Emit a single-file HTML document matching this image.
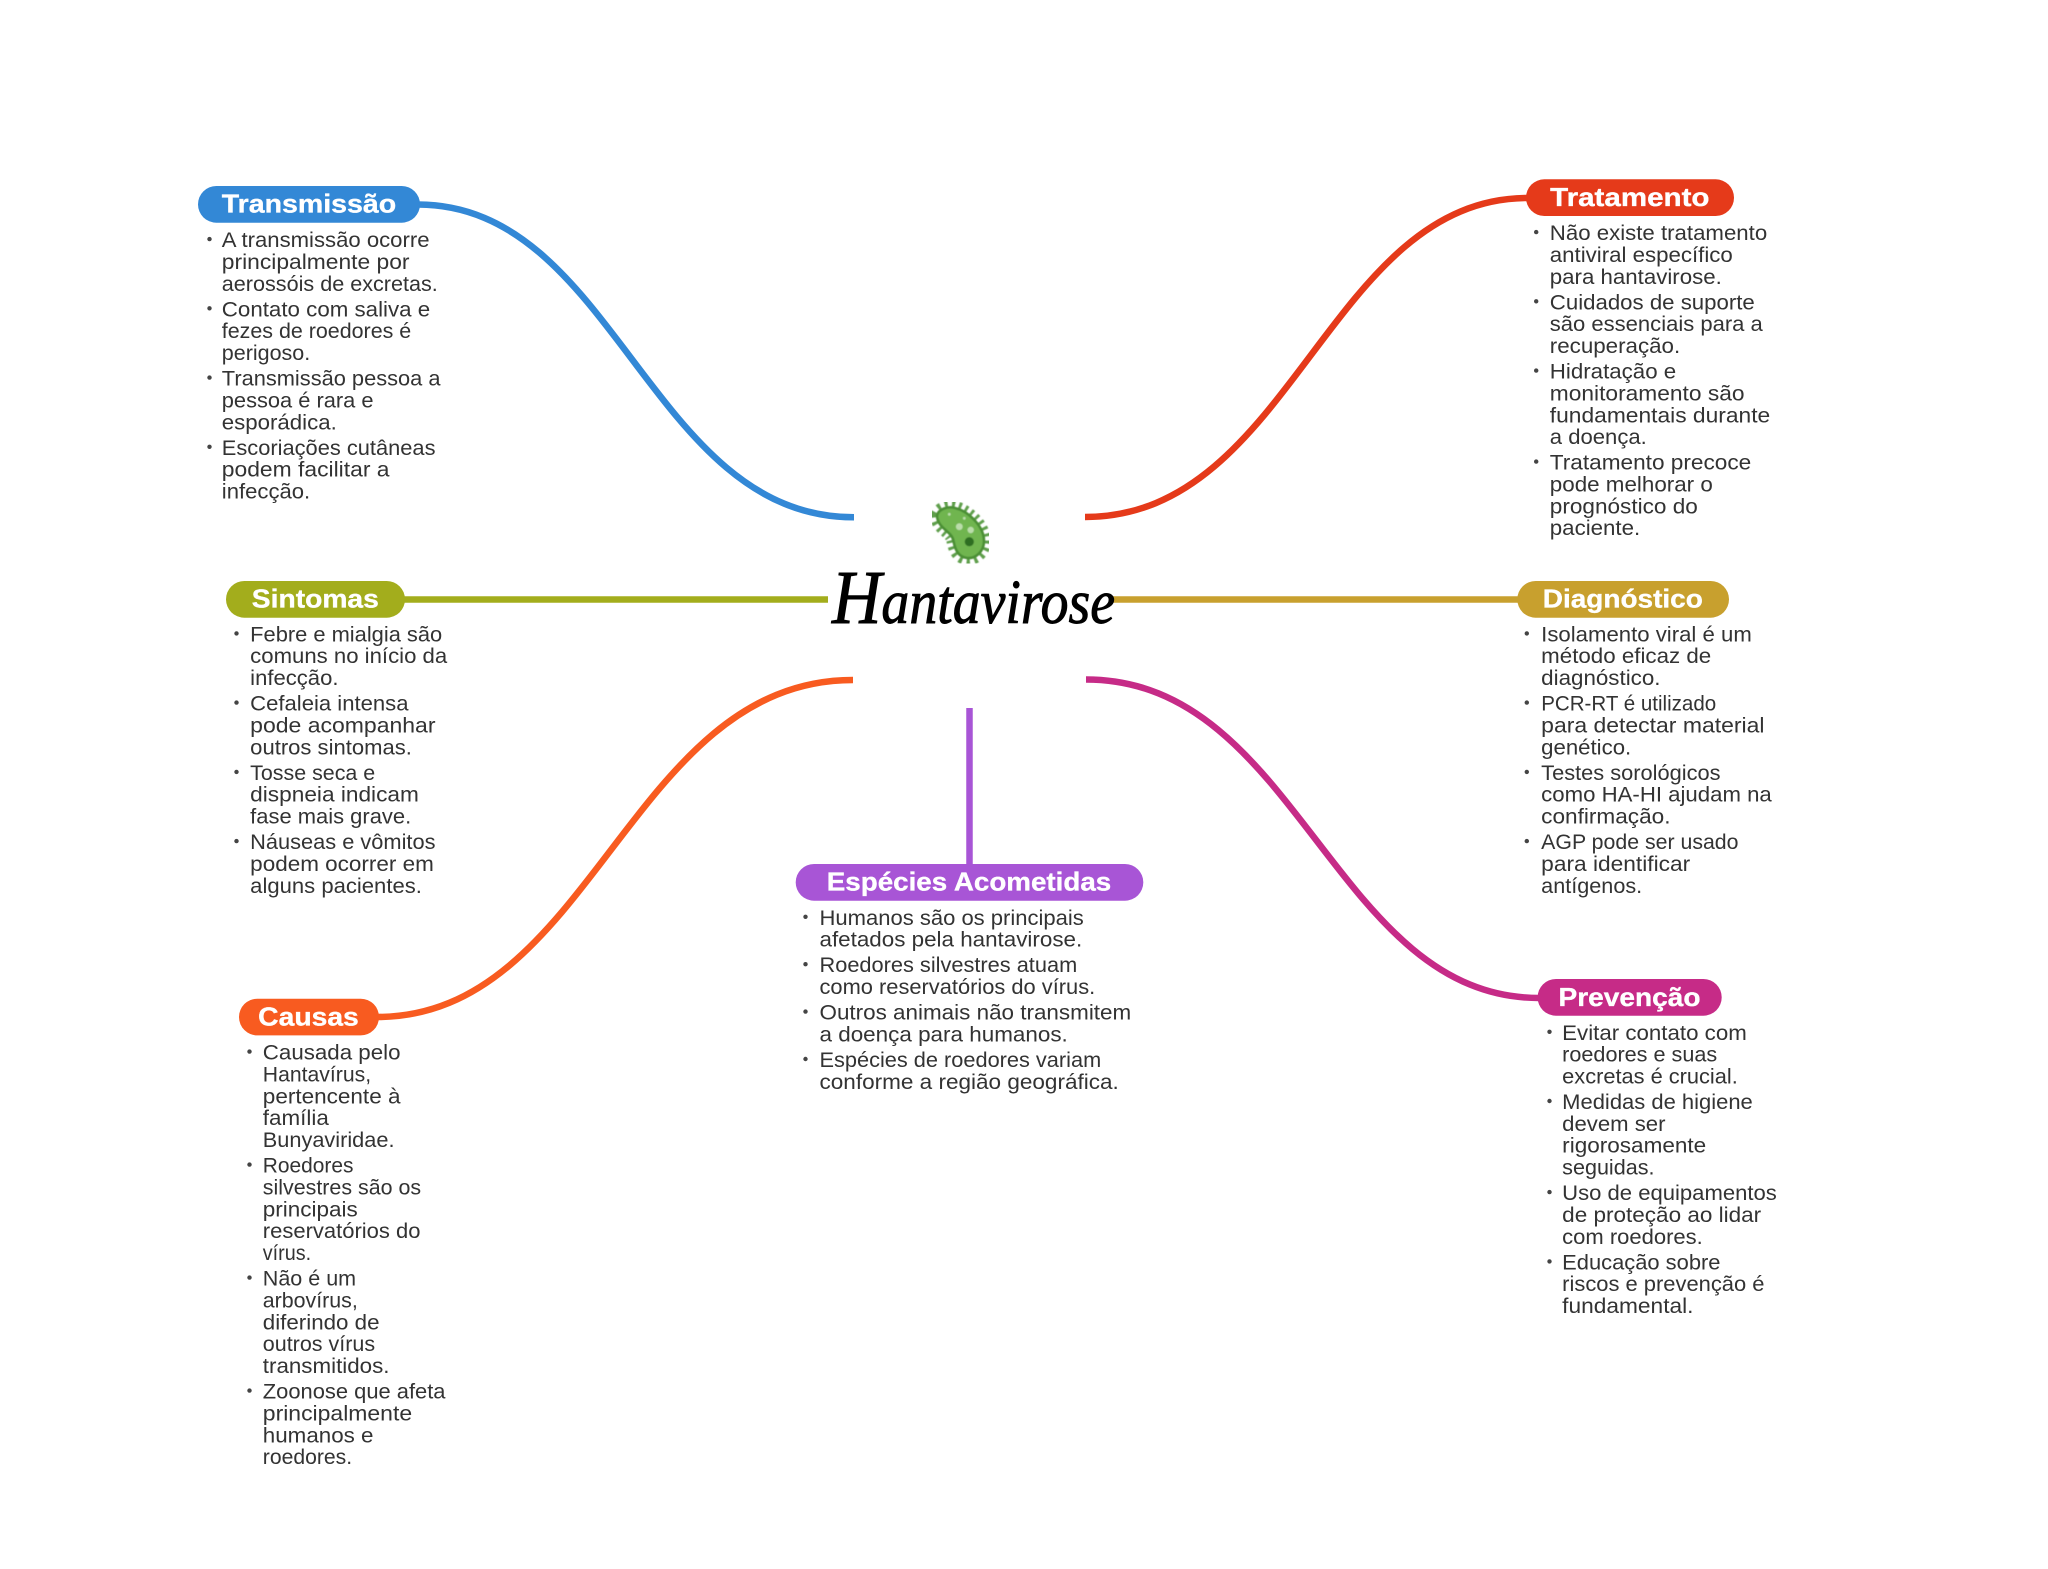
<!DOCTYPE html>
<html lang="pt"><head><meta charset="utf-8"><title>Hantavirose</title>
<style>
html,body{margin:0;padding:0;background:#fff;width:2048px;height:1569px;overflow:hidden}
svg{display:block}
.b text{font:21px "Liberation Sans",sans-serif;fill:#333}
.b circle{fill:#444}
.h{font:bold 26px "Liberation Sans",sans-serif;fill:#fff;stroke:#fff;stroke-width:.35}
.c{fill:none;stroke-width:6.5}
</style></head><body>
<svg width="2048" height="1569" viewBox="0 0 2048 1569" xmlns="http://www.w3.org/2000/svg">
<defs><filter id="s" x="-10%" y="-10%" width="120%" height="120%"><feGaussianBlur stdDeviation="0.4"/></filter></defs>
<rect width="2048" height="1569" fill="#fff"/>
<!-- connectors -->
<path class="c" stroke="#3388D6" d="M418 204.5C615 205 650 517.3 854 517.3"/>
<path class="c" stroke="#E53A1A" d="M1528 198C1328 198 1292 517 1085 517"/>
<path class="c" stroke="#A3AD1C" d="M403 599.5H828"/>
<path class="c" stroke="#C8A02E" d="M1111 599.5H1520"/>
<path class="c" stroke="#F85B20" d="M377 1017C592 1017 630 680 853 680"/>
<path class="c" stroke="#C62B87" d="M1539 998C1334 998 1298 679.5 1086 679.5"/>
<path class="c" stroke="#A855D6" d="M969.5 708V866"/>
<!-- central topic -->
<g filter="url(#s)">
<path d="M937 516C938 509 948 506 955 508C968 511 984 526 984 541C984 552 975 559 967 558C958 557 955 549 953.5 541C952 531 938 529 937 516Z" fill="none" stroke="#5F9F4B" stroke-width="14" stroke-dasharray="2.6 3.6"/>
<path d="M937 516C938 509 948 506 955 508C968 511 984 526 984 541C984 552 975 559 967 558C958 557 955 549 953.5 541C952 531 938 529 937 516Z" fill="#6FB550" stroke="#4B8F35" stroke-width="2.6"/>
<circle cx="969.3" cy="541.7" r="4.6" fill="#2F6E22"/>
<circle cx="959.3" cy="526.7" r="3.4" fill="#BBDDAA"/>
<circle cx="970.7" cy="530" r="3.2" fill="#BBDDAA"/>
<circle cx="949.3" cy="514.3" r="1.4" fill="#BBDDAA"/>
<circle cx="964.3" cy="518.3" r="1.4" fill="#BBDDAA"/>
</g>
<text x="832" y="623" textLength="283" lengthAdjust="spacingAndGlyphs" font-family="'Liberation Serif',serif" font-style="italic" fill="#000" stroke="#000" stroke-width="0.9"><tspan font-size="76">H</tspan><tspan font-size="62">antavirose</tspan></text>
<!-- pills -->
<rect x="198" y="186" width="222" height="36.7" rx="18.3" fill="#3388D6"/>
<text class="h" x="221.8" y="212.7" textLength="174.4" lengthAdjust="spacingAndGlyphs">Transmissão</text>
<rect x="226" y="581" width="179" height="36.7" rx="18.3" fill="#A3AD1C"/>
<text class="h" x="251.8" y="607.7" textLength="127" lengthAdjust="spacingAndGlyphs">Sintomas</text>
<rect x="239" y="998.7" width="140" height="36.7" rx="18.3" fill="#F85B20"/>
<text class="h" x="258.2" y="1025.3" textLength="100.6" lengthAdjust="spacingAndGlyphs">Causas</text>
<rect x="1526" y="179.3" width="208" height="36.7" rx="18.3" fill="#E53A1A"/>
<text class="h" x="1550.2" y="206" textLength="159.3" lengthAdjust="spacingAndGlyphs">Tratamento</text>
<rect x="1517.3" y="581" width="211.7" height="36.7" rx="18.3" fill="#C8A02E"/>
<text class="h" x="1542.8" y="607.5" textLength="160" lengthAdjust="spacingAndGlyphs">Diagnóstico</text>
<rect x="1537.6" y="979" width="184.1" height="36.7" rx="18.3" fill="#C62B87"/>
<text class="h" x="1558.5" y="1006" textLength="142" lengthAdjust="spacingAndGlyphs">Prevenção</text>
<rect x="795.7" y="864" width="347.6" height="36.7" rx="18.3" fill="#A855D6"/>
<text class="h" x="826.8" y="890.7" textLength="284.4" lengthAdjust="spacingAndGlyphs">Espécies Acometidas</text>
<g transform="translate(-0.5 0.6)">
<!-- Transmissão -->
<g class="b">
<circle cx="210" cy="238.5" r="2.2"/><circle cx="210" cy="307.7" r="2.2"/><circle cx="210" cy="377" r="2.2"/><circle cx="210" cy="446.2" r="2.2"/>
<text x="222.3" y="246.5" textLength="207.7" lengthAdjust="spacingAndGlyphs">A transmissão ocorre</text>
<text x="222.3" y="268.35" textLength="187.7" lengthAdjust="spacingAndGlyphs">principalmente por</text>
<text x="222.3" y="290.2" textLength="216" lengthAdjust="spacingAndGlyphs">aerossóis de excretas.</text>
<text x="222.3" y="315.75" textLength="208.4" lengthAdjust="spacingAndGlyphs">Contato com saliva e</text>
<text x="222.3" y="337.6" textLength="189.4" lengthAdjust="spacingAndGlyphs">fezes de roedores é</text>
<text x="222.3" y="359.45" textLength="88.4" lengthAdjust="spacingAndGlyphs">perigoso.</text>
<text x="222.3" y="385" textLength="218.7" lengthAdjust="spacingAndGlyphs">Transmissão pessoa a</text>
<text x="222.3" y="406.85" textLength="151.7" lengthAdjust="spacingAndGlyphs">pessoa é rara e</text>
<text x="222.3" y="428.7" textLength="115" lengthAdjust="spacingAndGlyphs">esporádica.</text>
<text x="222.3" y="454.25" textLength="213.7" lengthAdjust="spacingAndGlyphs">Escoriações cutâneas</text>
<text x="222.3" y="476.1" textLength="167.7" lengthAdjust="spacingAndGlyphs">podem facilitar a</text>
<text x="222.3" y="497.95" textLength="88.4" lengthAdjust="spacingAndGlyphs">infecção.</text>
</g>
<!-- Sintomas -->
<g class="b">
<circle cx="237" cy="632.8" r="2.2"/><circle cx="237" cy="702" r="2.2"/><circle cx="237" cy="771.3" r="2.2"/><circle cx="237" cy="840.5" r="2.2"/>
<text x="250.7" y="640.8" textLength="192" lengthAdjust="spacingAndGlyphs">Febre e mialgia são</text>
<text x="250.7" y="662.65" textLength="197" lengthAdjust="spacingAndGlyphs">comuns no início da</text>
<text x="250.7" y="684.5" textLength="88.3" lengthAdjust="spacingAndGlyphs">infecção.</text>
<text x="250.7" y="710.05" textLength="158.3" lengthAdjust="spacingAndGlyphs">Cefaleia intensa</text>
<text x="250.7" y="731.9" textLength="185.3" lengthAdjust="spacingAndGlyphs">pode acompanhar</text>
<text x="250.7" y="753.75" textLength="161.7" lengthAdjust="spacingAndGlyphs">outros sintomas.</text>
<text x="250.7" y="779.3" textLength="125" lengthAdjust="spacingAndGlyphs">Tosse seca e</text>
<text x="250.7" y="801.15" textLength="168.7" lengthAdjust="spacingAndGlyphs">dispneia indicam</text>
<text x="250.7" y="823" textLength="161" lengthAdjust="spacingAndGlyphs">fase mais grave.</text>
<text x="250.7" y="848.55" textLength="185.3" lengthAdjust="spacingAndGlyphs">Náuseas e vômitos</text>
<text x="250.7" y="870.4" textLength="183.7" lengthAdjust="spacingAndGlyphs">podem ocorrer em</text>
<text x="250.7" y="892.25" textLength="171.7" lengthAdjust="spacingAndGlyphs">alguns pacientes.</text>
</g>
<!-- Causas -->
<g class="b">
<circle cx="250" cy="1051" r="2.2"/><circle cx="250" cy="1164" r="2.2"/><circle cx="250" cy="1277" r="2.2"/><circle cx="250" cy="1390" r="2.2"/>
<text x="263.3" y="1059" textLength="137.7" lengthAdjust="spacingAndGlyphs">Causada pelo</text>
<text x="263.3" y="1080.85" textLength="108.3" lengthAdjust="spacingAndGlyphs">Hantavírus,</text>
<text x="263.3" y="1102.7" textLength="137.7" lengthAdjust="spacingAndGlyphs">pertencente à</text>
<text x="263.3" y="1124.55" textLength="66" lengthAdjust="spacingAndGlyphs">família</text>
<text x="263.3" y="1146.4" textLength="131.7" lengthAdjust="spacingAndGlyphs">Bunyaviridae.</text>
<text x="263.3" y="1172" textLength="90.7" lengthAdjust="spacingAndGlyphs">Roedores</text>
<text x="263.3" y="1193.85" textLength="158.3" lengthAdjust="spacingAndGlyphs">silvestres são os</text>
<text x="263.3" y="1215.7" textLength="95" lengthAdjust="spacingAndGlyphs">principais</text>
<text x="263.3" y="1237.55" textLength="157.7" lengthAdjust="spacingAndGlyphs">reservatórios do</text>
<text x="263.3" y="1259.4" textLength="48.3" lengthAdjust="spacingAndGlyphs">vírus.</text>
<text x="263.3" y="1285" textLength="93.3" lengthAdjust="spacingAndGlyphs">Não é um</text>
<text x="263.3" y="1306.85" textLength="95" lengthAdjust="spacingAndGlyphs">arbovírus,</text>
<text x="263.3" y="1328.7" textLength="116.7" lengthAdjust="spacingAndGlyphs">diferindo de</text>
<text x="263.3" y="1350.55" textLength="112.3" lengthAdjust="spacingAndGlyphs">outros vírus</text>
<text x="263.3" y="1372.4" textLength="126.7" lengthAdjust="spacingAndGlyphs">transmitidos.</text>
<text x="263.3" y="1398" textLength="182.7" lengthAdjust="spacingAndGlyphs">Zoonose que afeta</text>
<text x="263.3" y="1419.85" textLength="149.3" lengthAdjust="spacingAndGlyphs">principalmente</text>
<text x="263.3" y="1441.7" textLength="110.7" lengthAdjust="spacingAndGlyphs">humanos e</text>
<text x="263.3" y="1463.55" textLength="89.3" lengthAdjust="spacingAndGlyphs">roedores.</text>
</g>
<!-- Tratamento -->
<g class="b">
<circle cx="1536.7" cy="231.5" r="2.2"/><circle cx="1536.7" cy="300.7" r="2.2"/><circle cx="1536.7" cy="370" r="2.2"/><circle cx="1536.7" cy="461" r="2.2"/>
<text x="1550.3" y="239.5" textLength="217.4" lengthAdjust="spacingAndGlyphs">Não existe tratamento</text>
<text x="1550.3" y="261.35" textLength="183" lengthAdjust="spacingAndGlyphs">antiviral específico</text>
<text x="1550.3" y="283.2" textLength="172" lengthAdjust="spacingAndGlyphs">para hantavirose.</text>
<text x="1550.3" y="308.75" textLength="205" lengthAdjust="spacingAndGlyphs">Cuidados de suporte</text>
<text x="1550.3" y="330.6" textLength="213" lengthAdjust="spacingAndGlyphs">são essenciais para a</text>
<text x="1550.3" y="352.45" textLength="130.4" lengthAdjust="spacingAndGlyphs">recuperação.</text>
<text x="1550.3" y="378" textLength="126.4" lengthAdjust="spacingAndGlyphs">Hidratação e</text>
<text x="1550.3" y="399.85" textLength="194.7" lengthAdjust="spacingAndGlyphs">monitoramento são</text>
<text x="1550.3" y="421.7" textLength="220.4" lengthAdjust="spacingAndGlyphs">fundamentais durante</text>
<text x="1550.3" y="443.55" textLength="97" lengthAdjust="spacingAndGlyphs">a doença.</text>
<text x="1550.3" y="469.1" textLength="201.4" lengthAdjust="spacingAndGlyphs">Tratamento precoce</text>
<text x="1550.3" y="490.95" textLength="163" lengthAdjust="spacingAndGlyphs">pode melhorar o</text>
<text x="1550.3" y="512.8" textLength="148" lengthAdjust="spacingAndGlyphs">prognóstico do</text>
<text x="1550.3" y="534.65" textLength="90.4" lengthAdjust="spacingAndGlyphs">paciente.</text>
</g>
<!-- Diagnóstico -->
<g class="b">
<circle cx="1527.3" cy="632.8" r="2.2"/><circle cx="1527.3" cy="702" r="2.2"/><circle cx="1527.3" cy="771.3" r="2.2"/><circle cx="1527.3" cy="840.5" r="2.2"/>
<text x="1541.7" y="640.8" textLength="210.6" lengthAdjust="spacingAndGlyphs">Isolamento viral é um</text>
<text x="1541.7" y="662.65" textLength="170" lengthAdjust="spacingAndGlyphs">método eficaz de</text>
<text x="1541.7" y="684.5" textLength="119.3" lengthAdjust="spacingAndGlyphs">diagnóstico.</text>
<text x="1541.7" y="710.05" textLength="175" lengthAdjust="spacingAndGlyphs">PCR-RT é utilizado</text>
<text x="1541.7" y="731.9" textLength="223.3" lengthAdjust="spacingAndGlyphs">para detectar material</text>
<text x="1541.7" y="753.75" textLength="90" lengthAdjust="spacingAndGlyphs">genético.</text>
<text x="1541.7" y="779.3" textLength="179.3" lengthAdjust="spacingAndGlyphs">Testes sorológicos</text>
<text x="1541.7" y="801.15" textLength="230.6" lengthAdjust="spacingAndGlyphs">como HA-HI ajudam na</text>
<text x="1541.7" y="823" textLength="129.3" lengthAdjust="spacingAndGlyphs">confirmação.</text>
<text x="1541.7" y="848.55" textLength="197.3" lengthAdjust="spacingAndGlyphs">AGP pode ser usado</text>
<text x="1541.7" y="870.4" textLength="149" lengthAdjust="spacingAndGlyphs">para identificar</text>
<text x="1541.7" y="892.25" textLength="101" lengthAdjust="spacingAndGlyphs">antígenos.</text>
</g>
<!-- Prevenção -->
<g class="b">
<circle cx="1550" cy="1031.2" r="2.2"/><circle cx="1550" cy="1100.4" r="2.2"/><circle cx="1550" cy="1191.5" r="2.2"/><circle cx="1550" cy="1260.8" r="2.2"/>
<text x="1562.7" y="1039.2" textLength="184.6" lengthAdjust="spacingAndGlyphs">Evitar contato com</text>
<text x="1562.7" y="1061.05" textLength="155" lengthAdjust="spacingAndGlyphs">roedores e suas</text>
<text x="1562.7" y="1082.9" textLength="175.6" lengthAdjust="spacingAndGlyphs">excretas é crucial.</text>
<text x="1562.7" y="1108.45" textLength="190.6" lengthAdjust="spacingAndGlyphs">Medidas de higiene</text>
<text x="1562.7" y="1130.3" textLength="103.3" lengthAdjust="spacingAndGlyphs">devem ser</text>
<text x="1562.7" y="1152.15" textLength="144" lengthAdjust="spacingAndGlyphs">rigorosamente</text>
<text x="1562.7" y="1174" textLength="92.3" lengthAdjust="spacingAndGlyphs">seguidas.</text>
<text x="1562.7" y="1199.55" textLength="214.6" lengthAdjust="spacingAndGlyphs">Uso de equipamentos</text>
<text x="1562.7" y="1221.4" textLength="199" lengthAdjust="spacingAndGlyphs">de proteção ao lidar</text>
<text x="1562.7" y="1243.25" textLength="140.6" lengthAdjust="spacingAndGlyphs">com roedores.</text>
<text x="1562.7" y="1268.8" textLength="158.3" lengthAdjust="spacingAndGlyphs">Educação sobre</text>
<text x="1562.7" y="1290.65" textLength="202.3" lengthAdjust="spacingAndGlyphs">riscos e prevenção é</text>
<text x="1562.7" y="1312.5" textLength="131.3" lengthAdjust="spacingAndGlyphs">fundamental.</text>
</g>
<!-- Espécies -->
<g class="b">
<circle cx="806" cy="916.2" r="2.2"/><circle cx="806" cy="963.6" r="2.2"/><circle cx="806" cy="1011" r="2.2"/><circle cx="806" cy="1058.4" r="2.2"/>
<text x="820" y="924.2" textLength="264.3" lengthAdjust="spacingAndGlyphs">Humanos são os principais</text>
<text x="820" y="946.05" textLength="262.7" lengthAdjust="spacingAndGlyphs">afetados pela hantavirose.</text>
<text x="820" y="971.6" textLength="257.7" lengthAdjust="spacingAndGlyphs">Roedores silvestres atuam</text>
<text x="820" y="993.45" textLength="275.7" lengthAdjust="spacingAndGlyphs">como reservatórios do vírus.</text>
<text x="820" y="1019" textLength="311.7" lengthAdjust="spacingAndGlyphs">Outros animais não transmitem</text>
<text x="820" y="1040.85" textLength="248.3" lengthAdjust="spacingAndGlyphs">a doença para humanos.</text>
<text x="820" y="1066.4" textLength="281.7" lengthAdjust="spacingAndGlyphs">Espécies de roedores variam</text>
<text x="820" y="1088.25" textLength="299.3" lengthAdjust="spacingAndGlyphs">conforme a região geográfica.</text>
</g>
</g>
</svg>
</body></html>
